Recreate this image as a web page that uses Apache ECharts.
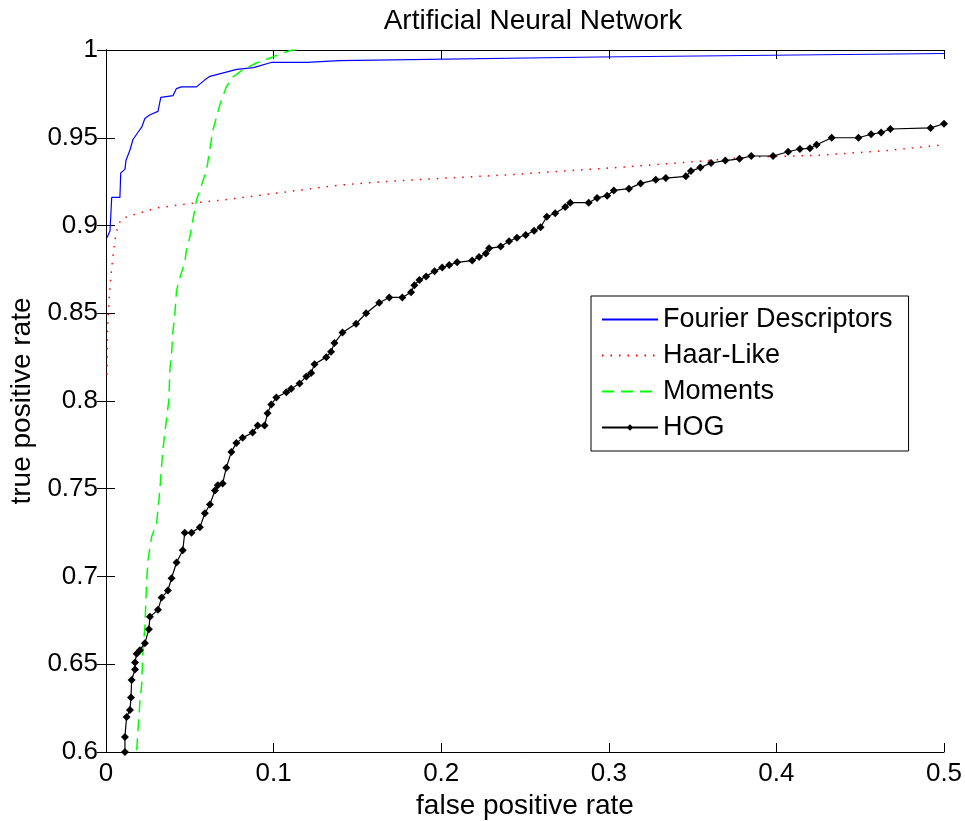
<!DOCTYPE html>
<html>
<head>
<meta charset="utf-8">
<script src="https://cdn.jsdelivr.net/npm/echarts@6/dist/echarts.min.js"></script>
<style>
  html, body { margin: 0; padding: 0; background: #fff; }
  #roc { width: 965px; height: 821px; }
</style>
</head>
<body>
<div id="roc"></div>
<script>
// values
var fourierX = [0.0006, 0.0024, 0.0034, 0.0083, 0.0088, 0.0113, 0.0119, 0.0143, 0.0161, 0.019, 0.0213, 0.0232, 0.026, 0.031, 0.0327, 0.040, 0.042, 0.045, 0.054, 0.059, 0.062, 0.070, 0.078, 0.088, 0.099, 0.12, 0.139, 0.294, 0.5];
var fourierY = [0.893, 0.897, 0.916, 0.916, 0.930, 0.932, 0.937, 0.943, 0.949, 0.953, 0.956, 0.961, 0.963, 0.965, 0.973, 0.974, 0.978, 0.979, 0.979, 0.983, 0.985, 0.987, 0.989, 0.990, 0.993, 0.993, 0.994, 0.996, 0.998];

var haarX = [0.0006, 0.0009, 0.0018, 0.003, 0.0042, 0.0054, 0.0071, 0.0095, 0.0161, 0.0302, 0.054, 0.0696, 0.139, 0.166, 0.2028, 0.2423, 0.282, 0.312, 0.3456, 0.385, 0.425, 0.4647, 0.5];
var haarY = [0.815, 0.8405, 0.8575, 0.872, 0.883, 0.892, 0.900, 0.904, 0.906, 0.910, 0.913, 0.9145, 0.923, 0.925, 0.927, 0.929, 0.9316, 0.9335, 0.936, 0.939, 0.940, 0.9426, 0.946];

var momentsX = [0.0183, 0.0202, 0.0213, 0.022, 0.0232, 0.0242, 0.025, 0.0272, 0.0302, 0.0321, 0.0339, 0.0375, 0.0381, 0.0391, 0.0399, 0.0411, 0.0421, 0.044, 0.047, 0.048, 0.05, 0.0518, 0.054, 0.06, 0.0637, 0.0679, 0.0718, 0.0756, 0.0815, 0.0897, 0.0994, 0.1054, 0.111, 0.1155];
var momentsY = [0.601, 0.628, 0.639, 0.658, 0.671, 0.696, 0.709, 0.7225, 0.7305, 0.749, 0.772, 0.8006, 0.8177, 0.827, 0.839, 0.850, 0.863, 0.870, 0.879, 0.886, 0.8934, 0.903, 0.9145, 0.9316, 0.954, 0.9687, 0.979, 0.9846, 0.9886, 0.9926, 0.996, 0.9983, 1.0, 1.0];

var hogX = [0.0113, 0.0113, 0.0123, 0.0143, 0.0149, 0.0153, 0.0173, 0.0173, 0.0183, 0.0202, 0.0232, 0.0256, 0.0262, 0.031, 0.0332, 0.0369, 0.0391, 0.0421, 0.0458, 0.047, 0.051, 0.056, 0.059, 0.062, 0.065, 0.0667, 0.0696, 0.0718, 0.0748, 0.0778, 0.0815, 0.0875, 0.0905, 0.0946, 0.0964, 0.0986, 0.1016, 0.1076, 0.1105, 0.1155, 0.1195, 0.1224, 0.1244, 0.1314, 0.1343, 0.1363, 0.1411, 0.1492, 0.1552, 0.163, 0.169, 0.1768, 0.182, 0.184, 0.187, 0.191, 0.196, 0.2006, 0.2048, 0.2095, 0.2185, 0.2226, 0.2266, 0.2286, 0.2355, 0.2405, 0.2452, 0.2504, 0.2554, 0.2593, 0.263, 0.268, 0.274, 0.277, 0.288, 0.293, 0.299, 0.303, 0.312, 0.319, 0.328, 0.334, 0.346, 0.349, 0.3546, 0.361, 0.3695, 0.378, 0.385, 0.398, 0.407, 0.414, 0.420, 0.424, 0.433, 0.449, 0.4565, 0.4625, 0.468, 0.492, 0.5];
var hogY = [0.600, 0.6086, 0.620, 0.624, 0.631, 0.641, 0.647, 0.651, 0.656, 0.658, 0.662, 0.670, 0.677, 0.681, 0.688, 0.692, 0.699, 0.708, 0.715, 0.725, 0.725, 0.728, 0.736, 0.741, 0.749, 0.752, 0.753, 0.762, 0.771, 0.776, 0.779, 0.782, 0.786, 0.786, 0.793, 0.798, 0.802, 0.805, 0.807, 0.810, 0.814, 0.816, 0.821, 0.825, 0.828, 0.833, 0.839, 0.844, 0.850, 0.856, 0.859, 0.859, 0.862, 0.866, 0.869, 0.871, 0.874, 0.876, 0.8775, 0.879, 0.880, 0.882, 0.884, 0.887, 0.888, 0.891, 0.893, 0.8946, 0.897, 0.899, 0.905, 0.907, 0.9105, 0.913, 0.913, 0.9157, 0.917, 0.920, 0.921, 0.924, 0.926, 0.927, 0.928, 0.931, 0.933, 0.9356, 0.937, 0.938, 0.9396, 0.9396, 0.942, 0.9436, 0.944, 0.946, 0.950, 0.950, 0.952, 0.953, 0.955, 0.9556, 0.958];

var xTicks = [0, 0.1, 0.2, 0.3, 0.4, 0.5];
var yTicks = [0.6, 0.65, 0.7, 0.75, 0.8, 0.85, 0.9, 0.95, 1];

function zip(xs, ys) {
    return xs.map(function (x, i) { return [x, ys[i]]; });
}

var FONT = 'Liberation Sans';

function tickLabel(v) {
    return String(+v.toFixed(2));
}

var chartDom = document.getElementById('roc');
var myChart = echarts.init(chartDom);
var option;

var mainAxisX = {
    type: 'value',
    min: xTicks[0],
    max: xTicks[xTicks.length - 1],
    interval: 0.1,
    name: 'false positive rate',
    nameLocation: 'middle',
    nameGap: 38,
    nameTextStyle: { fontFamily: FONT, fontSize: 28, color: '#000' },
    axisLine: { show: true, onZero: false, lineStyle: { color: '#000', width: 1 } },
    axisTick: { show: true, inside: true, length: 9, lineStyle: { color: '#000' } },
    axisLabel: { formatter: tickLabel, fontFamily: FONT, fontSize: 26, color: '#000', margin: 9 },
    splitLine: { show: false }
};

var mainAxisY = {
    type: 'value',
    min: yTicks[0],
    max: yTicks[yTicks.length - 1],
    interval: 0.05,
    name: 'true positive rate',
    nameLocation: 'middle',
    nameGap: 70,
    nameTextStyle: { fontFamily: FONT, fontSize: 28, color: '#000' },
    axisLine: { show: true, onZero: false, lineStyle: { color: '#000', width: 1 } },
    axisTick: { show: true, inside: true, length: 9, lineStyle: { color: '#000' } },
    axisLabel: { formatter: tickLabel, fontFamily: FONT, fontSize: 26, color: '#000', margin: 8 },
    splitLine: { show: false }
};

option = {
    backgroundColor: '#fff',
    animation: false,
    title: {
        text: 'Artificial Neural Network',
        left: 528,
        top: 2,
        textAlign: 'center',
        textStyle: { fontFamily: FONT, fontSize: 28, fontWeight: 'normal', color: '#000' }
    },
    grid: { left: 106, top: 50, right: 21, bottom: 69, containLabel: false, outerBoundsMode: 'none' },
    legend: {
        orient: 'vertical',
        left: 591,
        top: 296,
        padding: [10, 16, 10, 10],
        itemWidth: 56,
        itemHeight: 8,
        itemGap: 9,
        borderColor: '#000',
        borderWidth: 1,
        backgroundColor: '#fff',
        textStyle: { fontFamily: FONT, fontSize: 27, color: '#000' },
        data: [
            { name: 'Fourier Descriptors', itemStyle: { opacity: 0 } },
            { name: 'Haar-Like', itemStyle: { opacity: 0 } },
            { name: 'Moments', itemStyle: { opacity: 0 } },
            { name: 'HOG' }
        ]
    },
    xAxis: [
        mainAxisX,
        {
            type: 'value', position: 'top', min: 0, max: 0.5, interval: 0.1,
            axisLine: { show: true, lineStyle: { color: '#000' } },
            axisTick: { show: true, inside: true, length: 9, lineStyle: { color: '#000' } },
            axisLabel: { show: false }, splitLine: { show: false }
        }
    ],
    yAxis: [
        mainAxisY,
        {
            type: 'value', position: 'right', min: 0.6, max: 1, interval: 0.05,
            axisLine: { show: true, lineStyle: { color: '#000' } },
            axisTick: { show: true, inside: true, length: 9, lineStyle: { color: '#000' } },
            axisLabel: { show: false }, splitLine: { show: false }
        }
    ],
    series: [
        {
            name: 'Fourier Descriptors',
            type: 'line',
            symbol: 'none',
            lineStyle: { color: '#0000ff', width: 1.2 },
            itemStyle: { color: '#0000ff' },
            data: zip(fourierX, fourierY)
        },
        {
            name: 'Haar-Like',
            type: 'line',
            symbol: 'none',
            lineStyle: { color: '#ff0000', width: 1.5, type: [1.5, 7] },
            itemStyle: { color: '#ff0000' },
            data: zip(haarX, haarY)
        },
        {
            name: 'Moments',
            type: 'line',
            symbol: 'none',
            lineStyle: { color: '#00ff00', width: 1.5, type: [12, 7] },
            itemStyle: { color: '#00ff00' },
            data: zip(momentsX, momentsY)
        },
        {
            name: 'HOG',
            type: 'line',
            symbol: 'diamond',
            symbolSize: 8,
            lineStyle: { color: '#000', width: 1.2 },
            itemStyle: { color: '#000' },
            data: zip(hogX, hogY)
        }
    ]
};

option && myChart.setOption(option);
</script>
</body>
</html>
